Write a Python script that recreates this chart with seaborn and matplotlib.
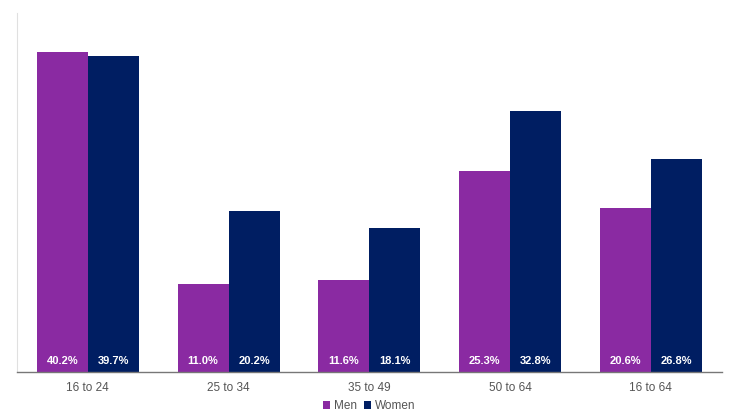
import numpy as np
import pandas as pd
import matplotlib
matplotlib.use("Agg")
import matplotlib.pyplot as plt
import seaborn as sns

# data
age_groups = ["16 to 24", "25 to 34", "35 to 49", "50 to 64", "16 to 64"]
men = [40.2, 11.0, 11.6, 25.3, 20.6]
women = [39.7, 20.2, 18.1, 32.8, 26.8]

df = pd.DataFrame({
    "age": age_groups * 2,
    "sex": ["Men"] * 5 + ["Women"] * 5,
    "value": men + women,
})

sns.set_style("white")
plt.rcParams['font.family'] = ['Liberation Sans', 'DejaVu Sans']

fig = plt.figure(figsize=(7.32, 4.17), dpi=100)
ax = fig.add_axes([0.023, 0.108, 0.963, 0.861])

palette = {"Men": "#8a2aa2", "Women": "#001e62"}
sns.barplot(data=df, x="age", y="value", hue="sex", palette=palette,
            width=0.725, saturation=1, linewidth=0, ax=ax, legend=True)

# value labels at the bottom of each bar
for cont in ax.containers:
    for bar in cont:
        h = bar.get_height()
        ax.text(bar.get_x() + bar.get_width() / 2, 1.35, f"{h:.1f}%",
                ha="center", va="center", color="white",
                fontsize=8, fontweight="bold")

ax.set_ylim(0, 45.1)
ax.set_xlim(-0.504, 4.504)
ax.set_xlabel("")
ax.set_ylabel("")
ax.set_yticks([])
ax.tick_params(axis="x", length=0, labelsize=8.5, labelcolor="#555555", pad=7)

for s in ["top", "right"]:
    ax.spines[s].set_visible(False)
ax.spines["left"].set_color("#e0e0e0")
ax.spines["left"].set_linewidth(0.8)
ax.spines["bottom"].set_color("#777777")
ax.spines["bottom"].set_linewidth(1.0)

leg = ax.legend(loc="center", bbox_to_anchor=(0.5, -0.095), ncol=2,
                frameon=False, fontsize=8.5, handlelength=0.6, handleheight=0.6,
                handletextpad=0.3, columnspacing=0.6, borderpad=0)
for t in leg.get_texts():
    t.set_color("#555555")

fig.savefig("out.png", dpi=100)
